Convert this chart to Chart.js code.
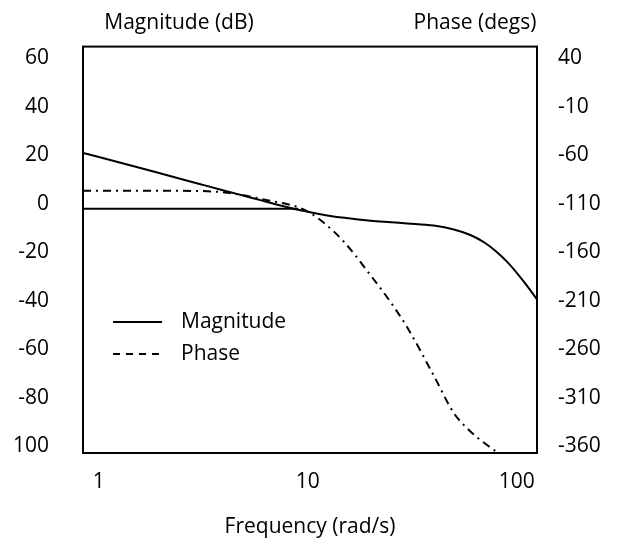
<!DOCTYPE html>
<html>
<head>
<meta charset="utf-8">
<title>Bode plot</title>
<script src="https://cdn.jsdelivr.net/npm/chart.js@4"></script>
<style>
  html, body { margin: 0; padding: 0; background: #ffffff; }
  #wrap { width: 617px; height: 545px; position: relative; }
</style>
</head>
<body>
<div id="wrap"><canvas id="chart"></canvas></div>
<script>
// frequencies (rad/s) shared by all series
const freqs = [0.84, 1, 1.5, 2, 3, 4, 5, 6, 7, 8, 9, 10, 12, 15, 20, 25, 30, 40, 50, 60, 70, 80, 90, 100, 110, 125];

// magnitude in dB (left axis)
const magnitude = [21, 19.3, 15.3, 12.4, 8.3, 5.4, 3.2, 1.4, -0.2, -1.4, -2.5, -3.3, -4.6, -5.8, -7.0, -7.6, -8.1, -9.0, -10.6, -12.9, -16.0, -19.8, -24.0, -28.5, -33.0, -39.5];

// flat low-frequency magnitude line (dB)
const magnitudeFlat = [-2, -2, -2, -2, -2, -2, -2, -2, -2, -2, -2, null, null, null, null, null, null, null, null, null, null, null, null, null, null, null];

// phase in degrees (right axis)
const phase = [-96.5, -96.5, -96.5, -96.6, -96.8, -98.3, -101.5, -105, -108, -110.5, -113.5, -118, -130, -150, -184, -212, -238, -287, -326, -345, -357, -366, null, null, null, null];

// tick labels
const xTicks = [1, 10, 100];
const magTicks = [60, 40, 20, 0, -20, -40, -60, -80, -100];
const magTickLabels = ['60', '40', '20', '0', '-20', '-40', '-60', '-80', '100'];
const phaseTicks = [40, -10, -60, -110, -160, -210, -260, -310, -360];

const FONT = "'Open Sans', sans-serif";
const FS = 21;

function pts(vals) {
  return freqs.map((f, i) => ({ x: f, y: vals[i] }));
}

const framePlugin = {
  id: 'frame',
  afterDatasetsDraw(chart) {
    const { ctx, chartArea: a } = chart;
    ctx.save();
    ctx.strokeStyle = '#000';
    ctx.lineWidth = 2;
    ctx.strokeRect(a.left, a.top, a.right - a.left, a.bottom - a.top);

    // axis titles on top
    ctx.fillStyle = '#000';
    ctx.font = FS + 'px ' + FONT;
    ctx.textAlign = 'center';
    ctx.textBaseline = 'middle';
    ctx.fillText('Magnitude (dB)', 179, 23);
    ctx.fillText('Phase (degs)', 475, 23);

    // legend inside plot
    ctx.lineWidth = 1.8;
    ctx.beginPath();
    ctx.moveTo(113, 322);
    ctx.lineTo(162, 322);
    ctx.stroke();
    ctx.setLineDash([7, 6]);
    ctx.beginPath();
    ctx.moveTo(113, 354);
    ctx.lineTo(162, 354);
    ctx.stroke();
    ctx.setLineDash([]);
    ctx.textAlign = 'left';
    ctx.fillText(chart.data.datasets[0].label, 181, 322);
    ctx.fillText(chart.data.datasets[2].label, 181, 354);
    ctx.restore();
  }
};

new Chart(document.getElementById('chart'), {
  type: 'line',
  data: {
    datasets: [
      {
        label: 'Magnitude',
        data: pts(magnitude),
        yAxisID: 'yMag',
        borderColor: '#000',
        borderWidth: 2,
        pointRadius: 0,
        cubicInterpolationMode: 'monotone'
      },
      {
        label: 'Magnitude asymptote',
        data: pts(magnitudeFlat),
        yAxisID: 'yMag',
        borderColor: '#000',
        borderWidth: 2,
        pointRadius: 0
      },
      {
        label: 'Phase',
        data: pts(phase),
        yAxisID: 'yPhase',
        borderColor: '#000',
        borderWidth: 2,
        borderDash: [8, 5, 2, 5],
        pointRadius: 0,
        cubicInterpolationMode: 'monotone'
      }
    ]
  },
  options: {
    responsive: true,
    maintainAspectRatio: false,
    animation: false,
    layout: { padding: { top: 46, left: 0, right: 0, bottom: 0 } },
    plugins: {
      legend: { display: false },
      tooltip: { enabled: false }
    },
    scales: {
      x: {
        type: 'logarithmic',
        min: 0.84,
        max: 125,
        grid: { display: false, drawTicks: false },
        border: { display: false },
        afterBuildTicks: s => { s.ticks = xTicks.map(v => ({ value: v })); },
        afterFit: s => { s.height = 92; },
        ticks: {
          padding: 16,
          color: '#000',
          font: { family: FONT, size: FS },
          maxRotation: 0,
          callback: v => String(v)
        },
        title: {
          display: true,
          text: 'Frequency (rad/s)',
          color: '#000',
          font: { family: FONT, size: FS },
          padding: { top: 0, bottom: 5 }
        }
      },
      yMag: {
        type: 'linear',
        position: 'left',
        min: -102.9,
        max: 64.9,
        grid: { display: false, drawTicks: false },
        border: { display: false },
        afterBuildTicks: s => { s.ticks = magTicks.map(v => ({ value: v })); },
        afterFit: s => { s.width = 83; },
        ticks: {
          padding: 34,
          color: '#000',
          font: { family: FONT, size: FS },
          callback: v => magTickLabels[magTicks.indexOf(v)]
        }
      },
      yPhase: {
        type: 'linear',
        position: 'right',
        min: -367.25,
        max: 52.25,
        grid: { display: false, drawTicks: false },
        border: { display: false },
        afterBuildTicks: s => { s.ticks = phaseTicks.map(v => ({ value: v })); },
        afterFit: s => { s.width = 80; },
        ticks: {
          padding: 21,
          color: '#000',
          font: { family: FONT, size: FS },
          callback: v => String(v)
        }
      }
    }
  },
  plugins: [framePlugin]
});
</script>
</body>
</html>
